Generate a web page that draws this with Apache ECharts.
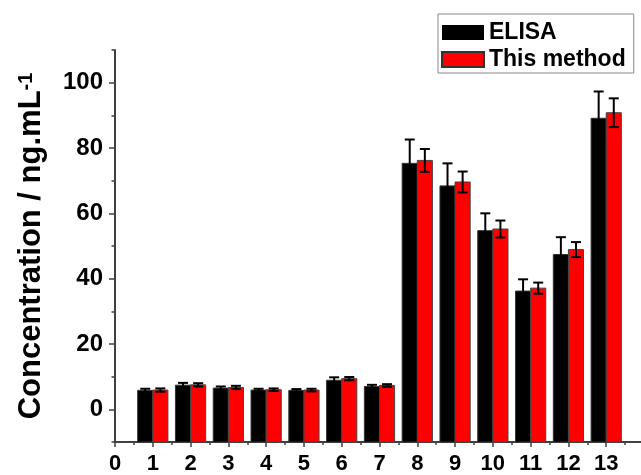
<!DOCTYPE html>
<html>
<head>
<meta charset="utf-8">
<script src="https://cdn.jsdelivr.net/npm/echarts@6/dist/echarts.min.js"></script>
<style>
  html, body { margin: 0; padding: 0; background: #fff; }
  #chart { width: 641px; height: 475px; }
</style>
</head>
<body>
<div id="chart"></div>
<script>
// sample numbers on the x axis
const samples = [1, 2, 3, 4, 5, 6, 7, 8, 9, 10, 11, 12, 13]
// ELISA reference results and their standard deviations
const elisa = [5.8, 7.4, 6.5, 5.9, 5.8, 8.9, 7.0, 75.3, 68.4, 54.7, 36.2, 47.4, 89.1]
const elisaErr = [0.5, 0.7, 0.5, 0.4, 0.4, 0.9, 0.5, 7.3, 6.9, 5.3, 3.6, 5.3, 8.2]
// results of the proposed method
const method = [5.9, 7.5, 6.7, 6.0, 5.9, 9.4, 7.3, 76.2, 69.6, 55.2, 37.1, 48.9, 90.8]
const methodErr = [0.5, 0.5, 0.5, 0.4, 0.4, 0.5, 0.4, 3.5, 3.2, 2.6, 1.7, 2.3, 4.4]
// tick positions
const yMajorTicks = [0, 20, 40, 60, 80, 100]
const yMinorTicks = [-10, 10, 30, 50, 70, 90, 110]

const FONT = '"Liberation Sans", Arial, sans-serif'
const Y_MIN = -10
const BAR_W = 0.4
const AXIS_COLOR = '#404040'

// bars start at the bottom of the axis, as in the original plot
function barRenderer(side, fill, border) {
  return (params, api) => {
    const x = api.value(0)
    const v = api.value(1)
    const e = api.value(2)
    const x0 = side < 0 ? x - BAR_W : x
    const x1 = x0 + BAR_W
    const pTop = api.coord([x0, v])
    const pBot = api.coord([x1, Y_MIN])
    const cx = api.coord([x0 + BAR_W / 2, v])[0]
    const yHi = api.coord([x, v + e])[1]
    const yLo = api.coord([x, v - e])[1]
    const cap = 5
    const errStyle = { stroke: '#000', lineWidth: 2 }
    return {
      type: 'group',
      children: [
        {
          type: 'rect',
          shape: { x: pTop[0], y: pTop[1], width: pBot[0] - pTop[0], height: pBot[1] - pTop[1] },
          style: { fill: fill, stroke: border, lineWidth: 1 }
        },
        { type: 'line', shape: { x1: cx, y1: yHi, x2: cx, y2: yLo }, style: errStyle },
        { type: 'line', shape: { x1: cx - cap, y1: yHi, x2: cx + cap, y2: yHi }, style: errStyle },
        { type: 'line', shape: { x1: cx - cap, y1: yLo, x2: cx + cap, y2: yLo }, style: errStyle }
      ]
    }
  }
}

const elisaData = samples.map((s, i) => [s, elisa[i], elisaErr[i]])
const methodData = samples.map((s, i) => [s, method[i], methodErr[i]])

const chart = echarts.init(document.getElementById('chart'), null, { renderer: 'canvas' })
chart.setOption({
  animation: false,
  backgroundColor: '#fff',
  textStyle: { fontFamily: FONT },
  grid: { left: 115, right: -3, top: 50, bottom: 33, containLabel: false, outerBoundsMode: 'none' },
  legend: {
    orient: 'vertical',
    left: 438,
    top: 14,
    padding: [7, 8, 2, 3],
    itemWidth: 42,
    itemHeight: 15,
    itemGap: 4,
    borderColor: '#888',
    borderWidth: 1,
    icon: 'rect',
    selectedMode: false,
    textStyle: { fontSize: 23, fontWeight: 'bold', color: '#000', fontFamily: FONT, lineHeight: 15 },
    data: ['ELISA', 'This method']
  },
  xAxis: {
    type: 'value',
    min: 0,
    max: 14,
    interval: 1,
    axisLine: { onZero: false, lineStyle: { color: AXIS_COLOR, width: 2 } },
    axisTick: { length: 5, lineStyle: { color: AXIS_COLOR, width: 1.5 } },
    minorTick: { show: true, splitNumber: 2, length: 3, lineStyle: { color: AXIS_COLOR, width: 1.5 } },
    splitLine: { show: false },
    axisLabel: {
      margin: 11,
      fontSize: 22,
      fontWeight: 'bold',
      color: '#000',
      fontFamily: FONT,
      formatter: v => (v > 13 ? '' : String(v))
    }
  },
  yAxis: [
    {
      type: 'value',
      min: Y_MIN,
      max: 110,
      name: '{a|Concentration / ng.mL}{s|-1}',
      nameLocation: 'middle',
      nameRotate: 90,
      nameGap: 68,
      nameTextStyle: {
        rich: {
          a: { fontSize: 31, fontWeight: 'bold', color: '#000', fontFamily: FONT },
          s: { fontSize: 20, fontWeight: 'bold', color: '#000', fontFamily: FONT, verticalAlign: 'top' }
        }
      },
      axisLine: { show: true, onZero: false, lineStyle: { color: AXIS_COLOR, width: 2 } },
      axisTick: { show: true, length: 6, customValues: yMajorTicks, lineStyle: { color: AXIS_COLOR, width: 1.5 } },
      axisLabel: {
        margin: 12,
        fontSize: 24,
        fontWeight: 'bold',
        color: '#000',
        fontFamily: FONT,
        customValues: yMajorTicks
      },
      splitLine: { show: false }
    },
    {
      type: 'value',
      position: 'left',
      min: Y_MIN,
      max: 110,
      axisLine: { show: false, onZero: false },
      axisTick: { show: true, length: 3.5, customValues: yMinorTicks, lineStyle: { color: AXIS_COLOR, width: 1.5 } },
      axisLabel: { show: false },
      splitLine: { show: false }
    }
  ],
  series: [
    {
      name: 'ELISA',
      type: 'custom',
      itemStyle: { color: '#000' },
      encode: { x: 0, y: 1 },
      renderItem: barRenderer(-1, '#000', '#333'),
      data: elisaData
    },
    {
      name: 'This method',
      type: 'custom',
      itemStyle: { color: '#ff0000', borderColor: '#333', borderWidth: 1 },
      encode: { x: 0, y: 1 },
      renderItem: barRenderer(1, '#ff0000', '#444'),
      data: methodData
    }
  ]
})
</script>
</body>
</html>
